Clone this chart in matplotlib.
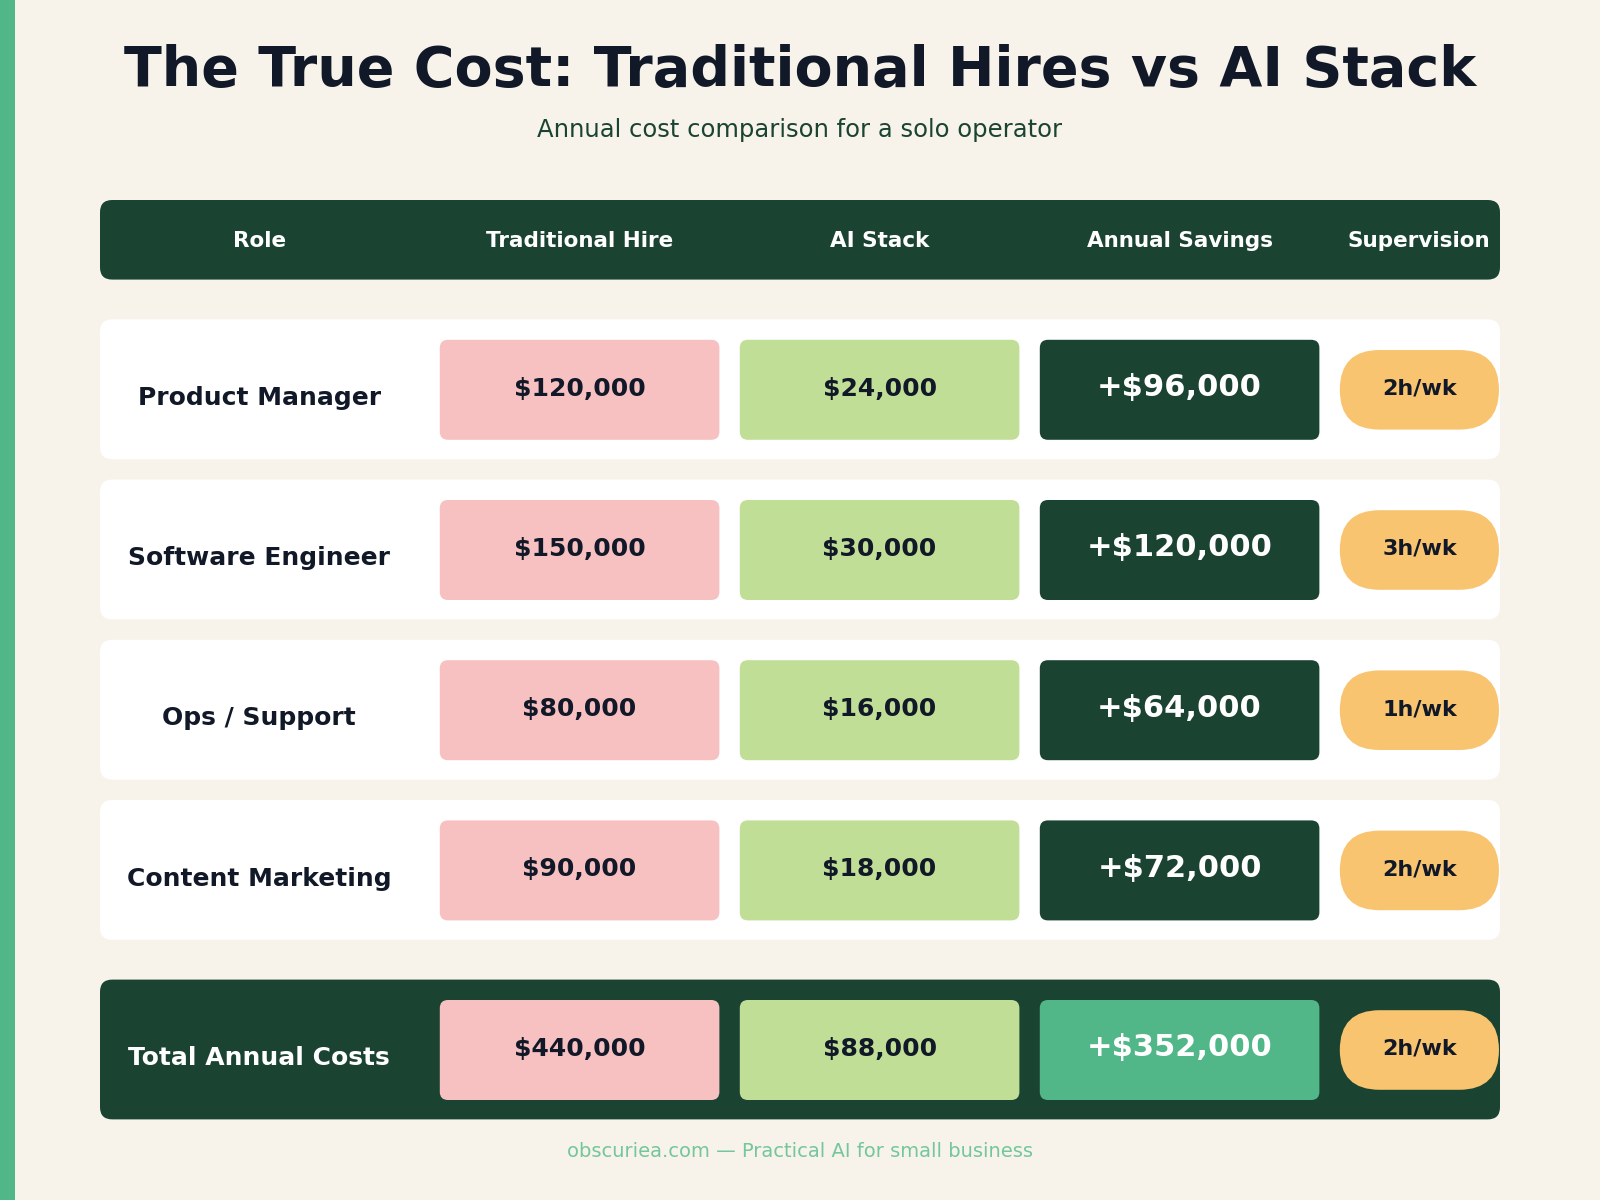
import matplotlib
matplotlib.use("Agg")
import matplotlib.pyplot as plt
from matplotlib.patches import FancyBboxPatch, Rectangle

roles = ["Product Manager", "Software Engineer", "Ops / Support", "Content Marketing"]
traditional = [120000, 150000, 80000, 90000]
ai_stack = [24000, 30000, 16000, 18000]
supervision = [2, 3, 1, 2]
total_label = "Total Annual Costs"
total_supervision = 2
headers = ["Role", "Traditional Hire", "AI Stack", "Annual Savings", "Supervision"]

BG = "#F7F3EA"; DARK = "#1B4332"; PINK = "#F7C1C1"; LGREEN = "#C1DE97"
MGREEN = "#52B788"; ORANGE = "#F9C46F"; TXT = "#111827"

fig = plt.figure(figsize=(16, 12), dpi=100)
fig.patch.set_facecolor(BG)
ax = fig.add_axes([0, 0, 1, 1])
ax.set_xlim(0, 1568); ax.set_ylim(1176, 0); ax.axis("off")

def box(x0, y0, x1, y1, color, r=10):
    ax.add_patch(FancyBboxPatch((x0, y0), x1 - x0, y1 - y0,
                 boxstyle=f"round,pad=0,rounding_size={r}", fc=color, ec="none"))

ax.add_patch(Rectangle((0, 0), 15, 1176, fc=MGREEN, ec="none"))
ax.text(784, 70, "The True Cost: Traditional Hires vs AI Stack", ha="center", va="center",
        fontsize=40, fontweight="bold", color=TXT)
ax.text(784, 127, "Annual cost comparison for a solo operator", ha="center", va="center",
        fontsize=17.5, color=DARK)

box(98, 196, 1470, 274, DARK, 12)
hx = [254, 568, 862, 1156, 1390]
for x, h in zip(hx, headers):
    ax.text(x, 236, h, ha="center", va="center", fontsize=15.5, fontweight="bold", color="white")

def row(y0, label, trad, ai, sup, card, labcol, savcol):
    box(98, y0, 1470, y0 + 137, card, 12)
    cy = y0 + 68
    ax.text(254, cy + 9, label, ha="center", va="center", fontsize=18, fontweight="bold", color=labcol)
    box(431, y0 + 20, 705, y0 + 118, PINK, 8)
    ax.text(568, cy, f"${trad:,}", ha="center", va="center", fontsize=18, fontweight="bold", color=TXT)
    box(725, y0 + 20, 999, y0 + 118, LGREEN, 8)
    ax.text(862, cy, f"${ai:,}", ha="center", va="center", fontsize=18, fontweight="bold", color=TXT)
    box(1019, y0 + 20, 1293, y0 + 118, savcol, 8)
    ax.text(1156, cy - 1, f"+${trad - ai:,}", ha="center", va="center", fontsize=22, fontweight="bold", color="white")
    box(1313, y0 + 30, 1469, y0 + 108, ORANGE, 39)
    ax.text(1391, cy, f"{sup}h/wk", ha="center", va="center", fontsize=16, fontweight="bold", color=TXT)

tops = [313, 470, 627, 784]
for y0, r, t, a, s in zip(tops, roles, traditional, ai_stack, supervision):
    row(y0, r, t, a, s, "white", TXT, DARK)
row(960, total_label, sum(traditional), sum(ai_stack), total_supervision, DARK, "white", MGREEN)

ax.text(784, 1128, "obscuriea.com — Practical AI for small business", ha="center", va="center",
        fontsize=14, color="#74C69D")
fig.savefig("out.png", dpi=100, facecolor=BG)
